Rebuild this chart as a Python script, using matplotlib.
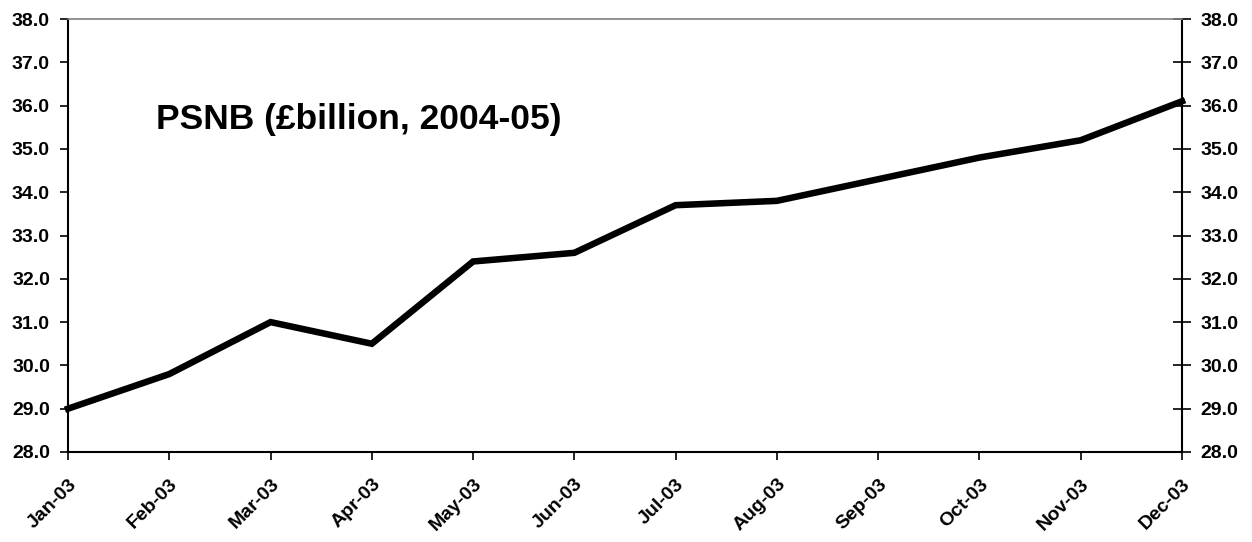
import matplotlib
matplotlib.use("Agg")
import matplotlib.pyplot as plt
from matplotlib.ticker import MultipleLocator, FormatStrFormatter

months = ["Jan-03", "Feb-03", "Mar-03", "Apr-03", "May-03", "Jun-03",
          "Jul-03", "Aug-03", "Sep-03", "Oct-03", "Nov-03", "Dec-03"]
psnb = [29.0, 29.8, 31.0, 30.5, 32.4, 32.6, 33.7, 33.8, 34.3, 34.8, 35.2, 36.1]
title = "PSNB (£billion, 2004-05)"

plt.rcParams['font.family'] = ['Liberation Sans', 'DejaVu Sans']
plt.rcParams['font.weight'] = 'bold'

fig = plt.figure(figsize=(12.52, 5.42), dpi=100)
ax = fig.add_axes([68/1252, 1-452/542, (1182-68)/1252, (452-19)/542])
x = list(range(len(months)))
ax.plot(x, psnb, color='black', lw=4.7, solid_joinstyle='miter', clip_on=False)
ax.set_xlim(0, len(months)-1)
ax.set_ylim(28, 38)
ax.yaxis.set_major_locator(MultipleLocator(1))
ax.yaxis.set_major_formatter(FormatStrFormatter('%.1f'))
ax.set_xticks(x)
ax.set_xticklabels(months, rotation=45, ha='right', va='top', rotation_mode='anchor',
                   fontsize=14, fontweight='bold')
ax.tick_params(axis='x', direction='out', length=6, width=1.2, pad=11)
ax.tick_params(axis='y', which='both', direction='out', length=6, width=1.2,
               labelsize=14, left=True, right=False, labelleft=True, labelright=True,
               pad=7)
for lbl in ax.get_yticklabels():
    lbl.set_fontweight('bold')
# right ticks cross the spine
sec = ax.secondary_yaxis('right')
sec.yaxis.set_major_locator(MultipleLocator(1))
sec.tick_params(direction='inout', length=13, width=1.2, labelright=False)
sec.spines['right'].set_visible(False)

for s in ['left', 'right', 'bottom']:
    ax.spines[s].set_color('black')
    ax.spines[s].set_linewidth(1.5)
ax.spines['top'].set_color('#808080')
ax.spines['top'].set_linewidth(1.2)

ax.text(156/1252, 1-129/542, title, transform=fig.transFigure, fontsize=25.5,
        fontweight='bold', ha='left', va='baseline')

fig.savefig("out.png", dpi=100)
